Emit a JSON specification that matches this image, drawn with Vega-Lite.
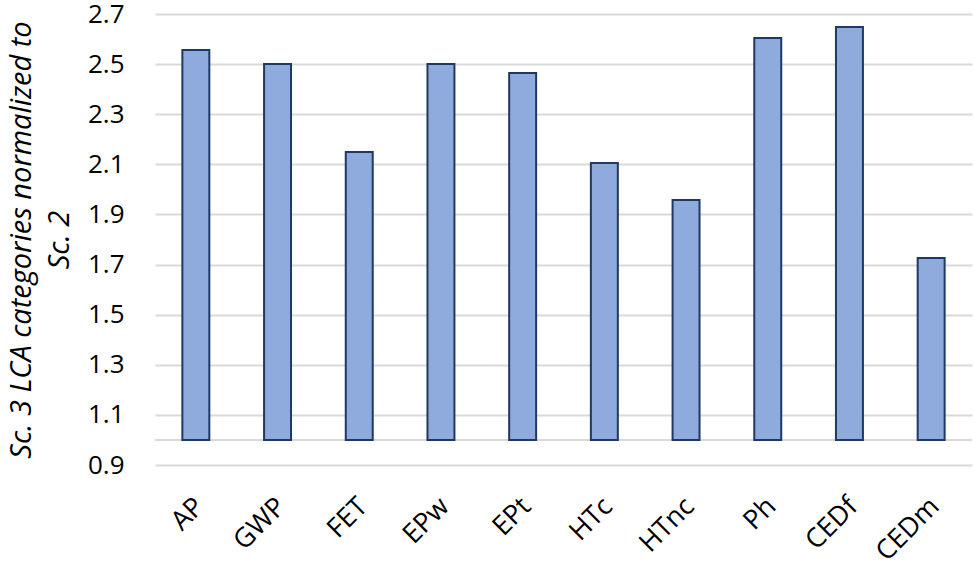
{
  "$schema": "https://vega.github.io/schema/vega-lite/v6.json",
  "autosize": {"type": "none"},
  "width": 817,
  "height": 451,
  "padding": {"left": 155, "top": 14, "right": 3, "bottom": 104},
  "background": "white",
  "config": {
    "view": {"stroke": null},
    "font": "Open Sans"
  },
  "data": {
    "values": [
      {"category": "AP", "value": 2.556},
      {"category": "GWP", "value": 2.50},
      {"category": "FET", "value": 2.149},
      {"category": "EPw", "value": 2.50},
      {"category": "EPt", "value": 2.465},
      {"category": "HTc", "value": 2.105},
      {"category": "HTnc", "value": 1.958},
      {"category": "Ph", "value": 2.604},
      {"category": "CEDf", "value": 2.648},
      {"category": "CEDm", "value": 1.726}
    ]
  },
  "layer": [
    {
      "mark": {"type": "rule", "color": "#d9d9d9", "strokeWidth": 2},
      "encoding": {"y": {"datum": 1.0, "type": "quantitative", "scale": {"domain": [0.9, 2.7], "nice": false, "zero": false}}}
    },
    {
      "mark": {"type": "bar", "fill": "#8faadc", "stroke": "#1f3864", "strokeWidth": 2},
      "encoding": {
        "x": {
          "field": "category",
          "type": "nominal",
          "sort": null,
          "scale": {"paddingInner": 0.67, "paddingOuter": 0.335},
          "axis": {
            "title": null,
            "labelAngle": -45,
            "labelAlign": "right",
            "labelBaseline": "middle",
            "labelFontSize": 27,
            "labelColor": "#000000",
            "labelPadding": 37,
            "labelOffset": 4,
            "domain": false,
            "ticks": false
          }
        },
        "y": {
          "field": "value",
          "type": "quantitative",
          "scale": {"domain": [0.9, 2.7], "nice": false, "zero": false},
          "axis": {
            "values": [0.9, 1.1, 1.3, 1.5, 1.7, 1.9, 2.1, 2.3, 2.5, 2.7],
            "format": ".1f",
            "domain": false,
            "ticks": false,
            "grid": true,
            "gridColor": "#d9d9d9",
            "gridWidth": 2,
            "labelFontSize": 26,
            "labelColor": "#000000",
            "labelPadding": 31,
            "title": ["Sc. 3 LCA categories normalized to", "Sc. 2"],
            "titleFontSize": 29,
            "titleFontStyle": "italic",
            "titleFontWeight": "normal",
            "titleColor": "#000000",
            "titleLineHeight": 38,
            "titlePadding": 13
          }
        },
        "y2": {"datum": 1.0}
      }
    }
  ]
}
